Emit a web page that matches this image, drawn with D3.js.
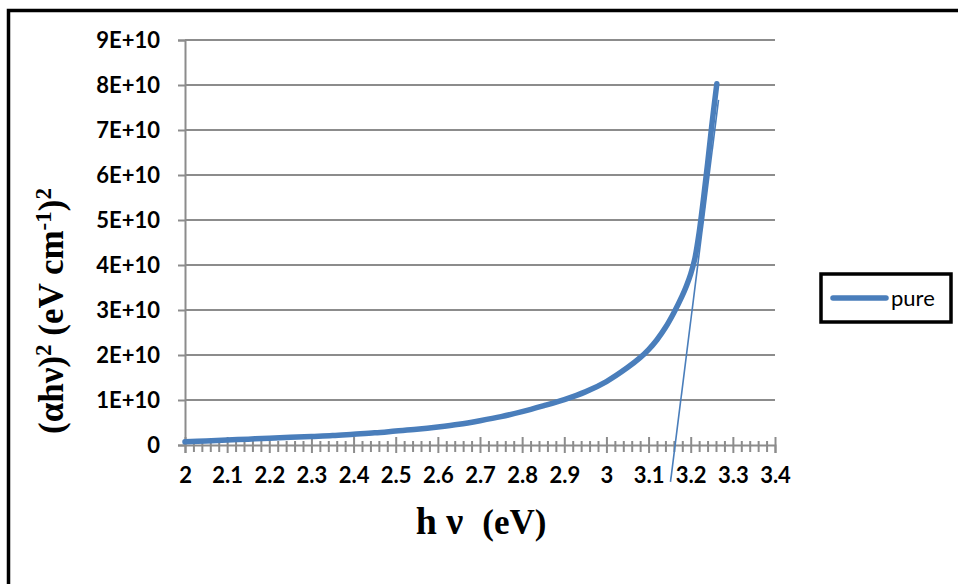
<!DOCTYPE html>
<html>
<head>
<meta charset="utf-8">
<script src="https://cdn.jsdelivr.net/npm/d3@7"></script>
<style>
  body { margin: 0; background: #fff; }
  svg { display: block; }
  .tick-label { font-family: Lato, "Open Sans", sans-serif; font-weight: bold; font-size: 22px; fill: #000; }
  .axis-title { font-family: "Liberation Serif", "Times New Roman", serif; font-weight: bold; fill: #000; white-space: pre; }
  .legend-label { font-family: Lato, "Open Sans", sans-serif; font-size: 22px; fill: #000; }
</style>
</head>
<body>
<div id="chart"></div>
<script>
// photon energy (eV)
const hv = [2.0, 2.05, 2.1, 2.15, 2.2, 2.25, 2.3, 2.35, 2.4, 2.45, 2.5, 2.55, 2.6, 2.65, 2.7,
  2.75, 2.8, 2.85, 2.9, 2.95, 3.0, 3.05, 3.08, 3.1, 3.12, 3.14, 3.16, 3.18, 3.19, 3.2, 3.21, 3.22,
  3.23, 3.24, 3.25, 3.262];
// (alpha h nu)^2
const alphaHv2 = [0.07e10, 0.09e10, 0.11e10, 0.13e10, 0.15e10, 0.17e10, 0.19e10, 0.21e10, 0.24e10, 0.27e10,
  0.31e10, 0.35e10, 0.40e10, 0.46e10, 0.54e10, 0.63e10, 0.74e10, 0.87e10, 1.01e10, 1.18e10, 1.41e10,
  1.72e10, 1.94e10, 2.12e10, 2.34e10, 2.61e10, 2.94e10, 3.32e10, 3.54e10, 3.8e10, 4.15e10, 4.72e10,
  5.45e10, 6.25e10, 7.1e10, 8.03e10];

// tangent used for the band gap estimate
const tangentX = [3.152, 3.266];
const tangentY = [-0.82e10, 7.67e10];

const xTicks = [2, 2.1, 2.2, 2.3, 2.4, 2.5, 2.6, 2.7, 2.8, 2.9, 3, 3.1, 3.2, 3.3, 3.4];
const xTickLabels = ["2", "2.1", "2.2", "2.3", "2.4", "2.5", "2.6", "2.7", "2.8", "2.9", "3", "3.1", "3.2", "3.3", "3.4"];
const yTicks = [0, 1e10, 2e10, 3e10, 4e10, 5e10, 6e10, 7e10, 8e10, 9e10];
const yTickLabels = ["0", "1E+10", "2E+10", "3E+10", "4E+10", "5E+10", "6E+10", "7E+10", "8E+10", "9E+10"];
const seriesName = "pure";

const W = 958, H = 584;
const plot = { left: 185, right: 775, top: 40, bottom: 445 };
const blue = "#4a7ebb";
const grey = "#8c8c8c";

const svg = d3.select("#chart").append("svg").attr("width", W).attr("height", H);

// outer chart frame (runs off the right and bottom edges)
svg.append("path")
  .attr("d", `M8.5,${H + 10} L8.5,10.5 L${W + 10},10.5`)
  .attr("fill", "none")
  .attr("stroke", "#000")
  .attr("stroke-width", 3.5);

const x = d3.scaleLinear().domain([2, 3.4]).range([plot.left, plot.right]);
const y = d3.scaleLinear().domain([0, 9e10]).range([plot.bottom, plot.top]);

// gridlines
svg.append("g")
  .selectAll("line")
  .data(yTicks.slice(1))
  .join("line")
  .attr("x1", plot.left)
  .attr("x2", plot.right)
  .attr("y1", (d) => y(d))
  .attr("y2", (d) => y(d))
  .attr("stroke", grey)
  .attr("stroke-width", 2);

// y axis
const yAxis = svg.append("g")
  .attr("transform", `translate(${plot.left},0)`)
  .call(d3.axisLeft(y).tickValues(yTicks).tickSize(7).tickPadding(18)
    .tickFormat((d, i) => yTickLabels[i]));
yAxis.select(".domain").attr("stroke", grey).attr("stroke-width", 2);
yAxis.selectAll(".tick line").attr("stroke", grey).attr("stroke-width", 2);
yAxis.selectAll(".tick text").attr("class", "tick-label").attr("dy", "0.36em");

// x axis minor ticks
const minorTicks = d3.range(0, 71).map((i) => 2 + i * 0.02).filter((_, i) => i % 5 !== 0);
const xMinor = svg.append("g")
  .attr("transform", `translate(0,${plot.bottom})`)
  .call(d3.axisBottom(x).tickValues(minorTicks).tickSize(7).tickFormat(""));
xMinor.select(".domain").remove();
xMinor.selectAll(".tick line").attr("y1", -4).attr("stroke", grey).attr("stroke-width", 2);

// x axis major ticks
const xAxis = svg.append("g")
  .attr("transform", `translate(0,${plot.bottom})`)
  .call(d3.axisBottom(x).tickValues(xTicks).tickSize(8).tickPadding(14)
    .tickFormat((d, i) => xTickLabels[i]));
xAxis.select(".domain").attr("stroke", grey).attr("stroke-width", 2);
xAxis.selectAll(".tick line").attr("y1", -8).attr("stroke", grey).attr("stroke-width", 2);
xAxis.selectAll(".tick text").attr("class", "tick-label").attr("dy", "0.72em");

// data curve
const points = hv.map((v, i) => [v, alphaHv2[i]]);
svg.append("path")
  .datum(points)
  .attr("fill", "none")
  .attr("stroke", blue)
  .attr("stroke-width", 5.5)
  .attr("stroke-linecap", "round")
  .attr("stroke-linejoin", "round")
  .attr("d", d3.line().x((d) => x(d[0])).y((d) => y(d[1])).curve(d3.curveCatmullRom.alpha(0.5)));

// tangent line
svg.append("line")
  .attr("x1", x(tangentX[0]))
  .attr("y1", y(tangentY[0]))
  .attr("x2", x(tangentX[1]))
  .attr("y2", y(tangentY[1]))
  .attr("stroke", blue)
  .attr("stroke-width", 1.6);

// axis titles
const yTitle = svg.append("text")
  .attr("class", "axis-title")
  .attr("transform", "translate(63,311) rotate(-90)")
  .attr("text-anchor", "middle")
  .attr("font-size", 35);
yTitle.append("tspan").text("(αhν)");
yTitle.append("tspan").attr("baseline-shift", "super").attr("font-size", 23).text("2");
yTitle.append("tspan").text(" (eV cm");
yTitle.append("tspan").attr("baseline-shift", "super").attr("font-size", 23).text("-1");
yTitle.append("tspan").text(")");
yTitle.append("tspan").attr("baseline-shift", "super").attr("font-size", 23).text("2");

const xTitle = svg.append("text")
  .attr("class", "axis-title")
  .attr("x", 481)
  .attr("y", 534)
  .attr("text-anchor", "middle");
xTitle.append("tspan").attr("font-size", 38).text("h ν  ");
xTitle.append("tspan").attr("font-size", 35).text("(eV)");

// legend
const legend = svg.append("g").attr("transform", "translate(821,274)");
legend.append("rect")
  .attr("width", 130)
  .attr("height", 48)
  .attr("fill", "#fff")
  .attr("stroke", "#000")
  .attr("stroke-width", 3.5);
legend.append("line")
  .attr("x1", 12).attr("x2", 65)
  .attr("y1", 24).attr("y2", 24)
  .attr("stroke", blue)
  .attr("stroke-width", 5.5)
  .attr("stroke-linecap", "round");
legend.append("text")
  .attr("class", "legend-label")
  .attr("x", 70)
  .attr("y", 32)
  .text(seriesName);
</script>
</body>
</html>
